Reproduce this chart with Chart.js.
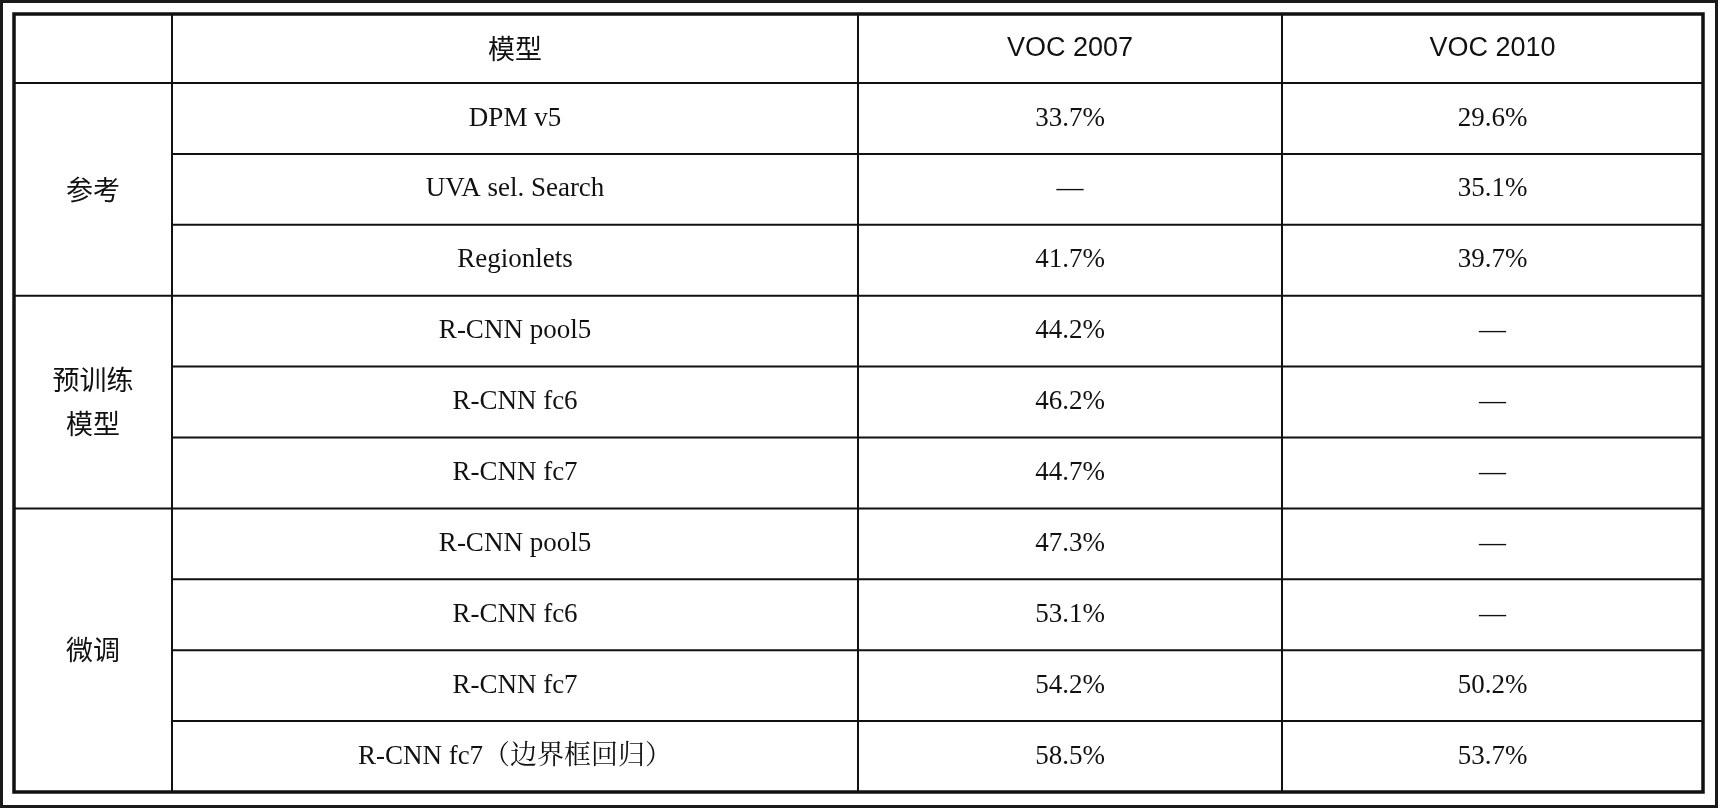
<!DOCTYPE html>
<html><head><meta charset="utf-8">
<script src="https://cdn.jsdelivr.net/npm/chart.js@4"></script>
<style>html,body{margin:0;padding:0;background:#fff;}canvas{display:block;}</style>
</head><body>
<canvas id="c" width="1718" height="808"></canvas>
<script>
const headers = ["", "模型", "VOC 2007", "VOC 2010"];
const groups = [["参考"], ["预训练", "模型"], ["微调"]];
const groupSizes = [3, 3, 4];
const models = ["DPM v5", "UVA sel. Search", "Regionlets", "R-CNN pool5", "R-CNN fc6", "R-CNN fc7", "R-CNN pool5", "R-CNN fc6", "R-CNN fc7", "R-CNN fc7（边界框回归）"];
const voc2007 = [33.7, null, 41.7, 44.2, 46.2, 44.7, 47.3, 53.1, 54.2, 58.5];
const voc2010 = [29.6, 35.1, 39.7, null, null, null, null, null, 50.2, 53.7];

const colEdges = [14, 172, 858, 1282, 1703];
const headerBottom = 83, top0 = 14, bottom0 = 792;
const fmt = v => v == null ? "—" : v.toFixed(1) + "%";

const tablePlugin = {
  id: 'table',
  afterDraw(chart) {
    const ctx = chart.ctx, xs = chart.scales.x, ys = chart.scales.y;
    const X = v => xs.getPixelForValue(v), Y = v => ys.getPixelForValue(v);
    const n = models.length;
    const rowH = (bottom0 - headerBottom) / n;
    const rowTop = i => headerBottom + i * rowH;
    ctx.save();
    // frame
    ctx.fillStyle = '#1a1a1a';
    ctx.fillRect(0, 0, chart.width, chart.height);
    ctx.fillStyle = '#fff';
    ctx.fillRect(X(3), Y(3), X(1715) - X(3), Y(805) - Y(3));
    ctx.strokeStyle = '#111';
    // inner horizontal lines
    ctx.lineWidth = 2;
    ctx.beginPath();
    ctx.moveTo(X(colEdges[0]), Y(headerBottom)); ctx.lineTo(X(colEdges[4]), Y(headerBottom));
    let acc = 0; const boundaries = new Set();
    groupSizes.forEach(s => { acc += s; boundaries.add(acc); });
    for (let i = 1; i < n; i++) {
      const x0 = boundaries.has(i) ? colEdges[0] : colEdges[1];
      ctx.moveTo(X(x0), Y(rowTop(i))); ctx.lineTo(X(colEdges[4]), Y(rowTop(i)));
    }
    for (let c = 1; c < 4; c++) {
      ctx.moveTo(X(colEdges[c]), Y(top0)); ctx.lineTo(X(colEdges[c]), Y(bottom0));
    }
    ctx.stroke();
    ctx.lineWidth = 3.5;
    ctx.strokeRect(X(colEdges[0]), Y(top0), X(colEdges[4]) - X(colEdges[0]), Y(bottom0) - Y(top0));
    // text
    ctx.fillStyle = '#111';
    ctx.textAlign = 'center'; ctx.textBaseline = 'middle';
    const cx = c => X((colEdges[c] + colEdges[c + 1]) / 2);
    const hy = Y((top0 + headerBottom) / 2);
    ctx.font = '27px "Noto Sans CJK SC"';
    ctx.fillText(headers[1], cx(1), hy);
    ctx.font = '27px "Liberation Sans"';
    ctx.fillText(headers[2], cx(2), hy);
    ctx.fillText(headers[3], cx(3), hy);
    const serif = '27px "Liberation Serif", "Noto Serif CJK SC", "Noto Sans CJK SC"';
    for (let i = 0; i < n; i++) {
      const y = Y(rowTop(i) + rowH / 2);
      ctx.font = serif;
      ctx.fillText(models[i], cx(1), y);
      ctx.fillText(fmt(voc2007[i]), cx(2), y);
      ctx.fillText(fmt(voc2010[i]), cx(3), y);
    }
    ctx.font = '27px "Noto Sans CJK SC"';
    let start = 0;
    groups.forEach((lines, g) => {
      const mid = rowTop(start) + groupSizes[g] * rowH / 2;
      const lh = 44;
      lines.forEach((t, k) => {
        ctx.fillText(t, cx(0), Y(mid + (k - (lines.length - 1) / 2) * lh));
      });
      start += groupSizes[g];
    });
    ctx.restore();
  }
};

new Chart(document.getElementById('c'), {
  type: 'scatter',
  data: { datasets: [{ data: [] }] },
  options: {
    responsive: false, animation: false, devicePixelRatio: 1,
    layout: { padding: 0 },
    plugins: { legend: { display: false }, tooltip: { enabled: false } },
    scales: {
      x: { type: 'linear', min: 0, max: 1718, display: false },
      y: { type: 'linear', min: 0, max: 808, reverse: true, display: false }
    }
  },
  plugins: [tablePlugin]
});
</script>
</body></html>
